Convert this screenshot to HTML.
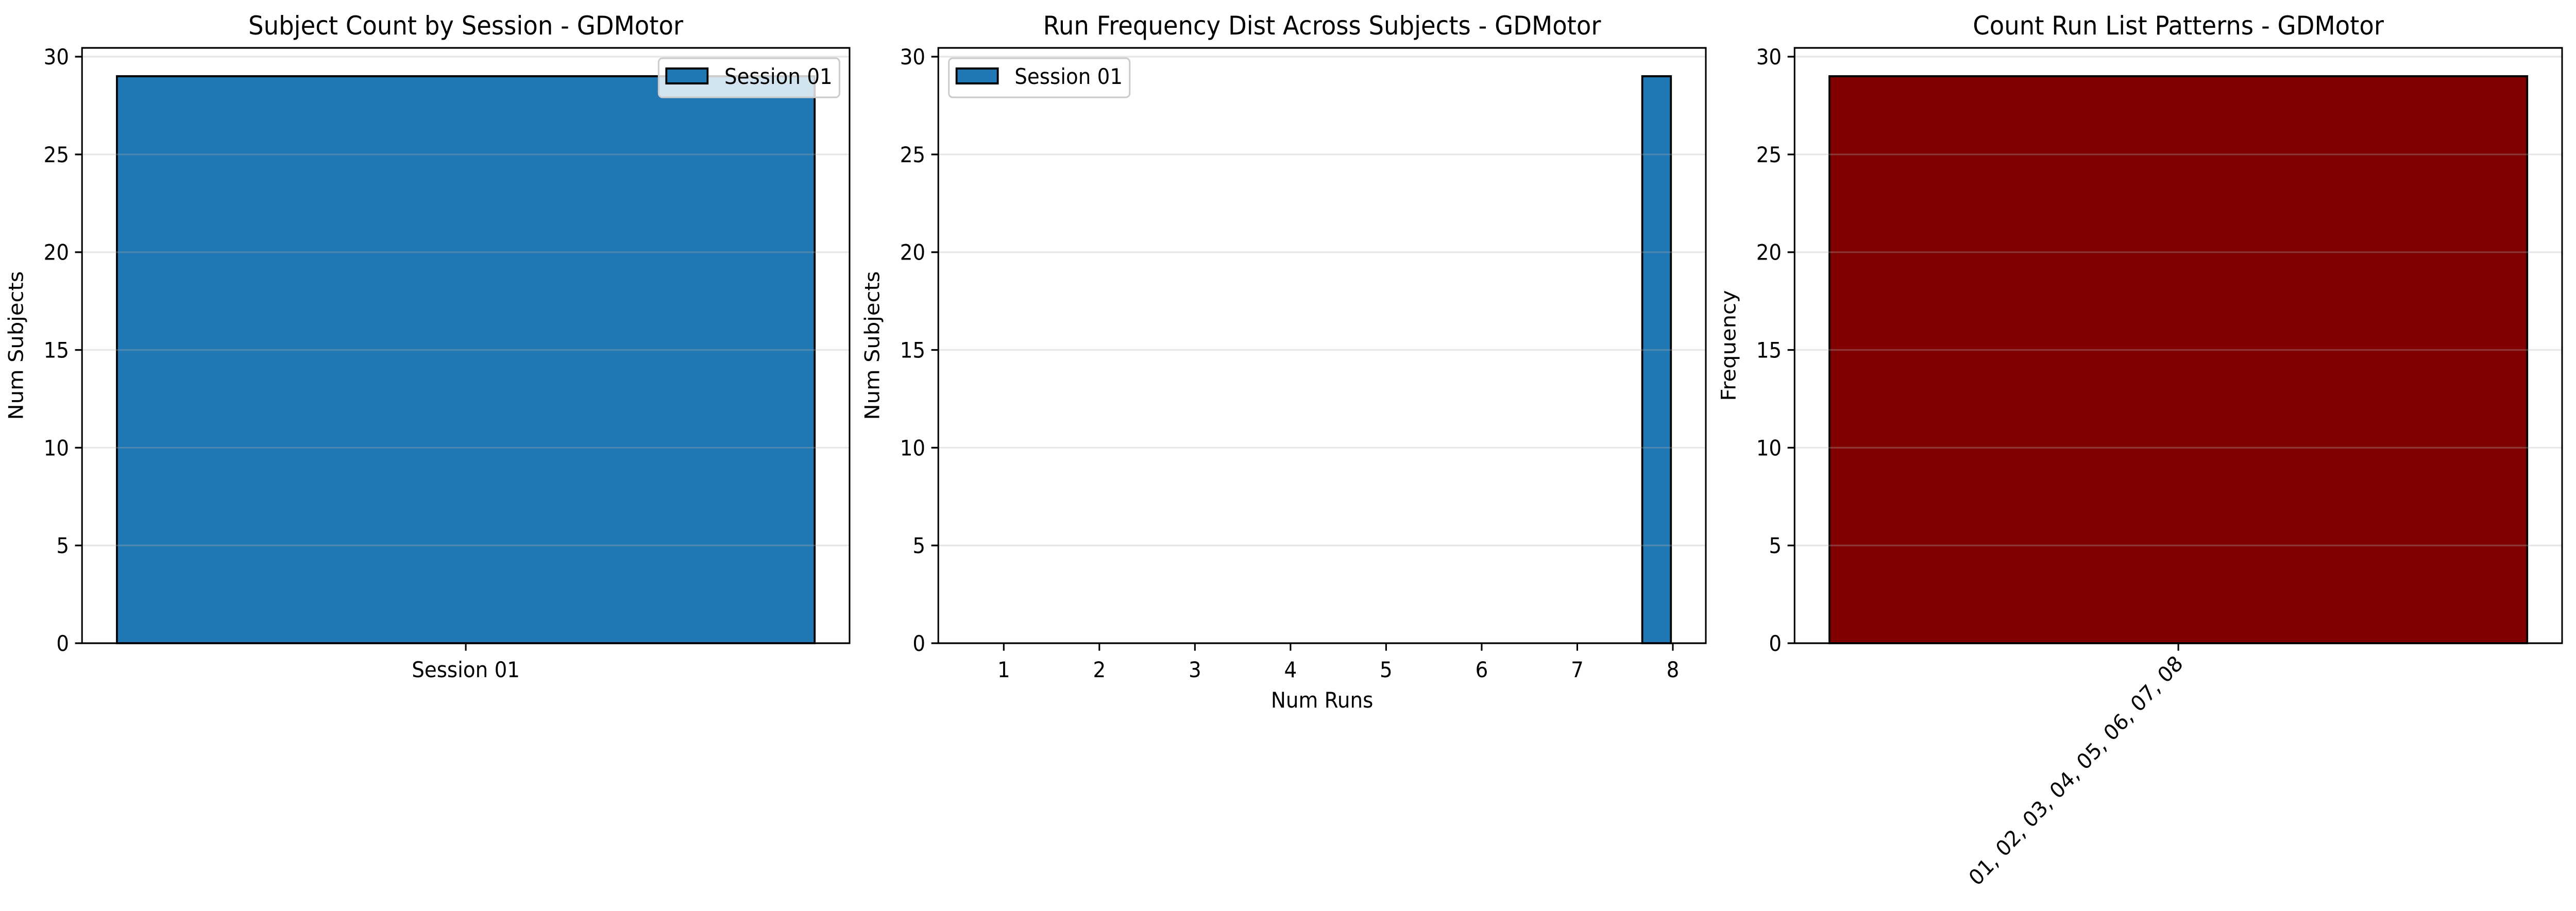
<!DOCTYPE html>
<html><head><meta charset="utf-8"><style>
html,body{margin:0;padding:0;background:#fff;width:100%;height:100%;overflow:hidden;}
svg{display:block;position:absolute;left:0;top:0;width:100vw;height:100vh;overflow:hidden;font-family:"DejaVu Sans","Liberation Sans",sans-serif;}
</style></head><body>
<svg id="fig" viewBox="0 0 5370 1769" preserveAspectRatio="none" xmlns="http://www.w3.org/2000/svg"></svg>
<script>
// ---- data ----
const sessionCats = ["Session 01"];
const sessionCounts = [29];
const runCats = [1, 2, 3, 4, 5, 6, 7, 8];
const runCounts = [0, 0, 0, 0, 0, 0, 0, 29];
const patternCats = ["01, 02, 03, 04, 05, 06, 07, 08"];
const patternCounts = [29];
const yTicks = [0, 5, 10, 15, 20, 25, 30];

const NS = "http://www.w3.org/2000/svg";
const svg = document.getElementById("fig");
function mk(tag, attrs, parent) {
  const e = document.createElementNS(NS, tag);
  for (const k in attrs) e.setAttribute(k, attrs[k]);
  (parent || svg).appendChild(e);
  return e;
}
const TOP = 93, BOT = 1249;
const FS = 41.7;

function panel(cfg) {
  const g = mk("g", {});
  
  
  const L = cfg.left, R = cfg.left + 1600;
  const ymax = Math.max(...cfg.values) * 1.05;
  const ys = v => BOT - v / ymax * (BOT - TOP);
  const xs = v => L + (v - cfg.xmin) / (cfg.xmax - cfg.xmin) * (R - L);
  cfg.values.forEach((v, i) => {
    const x0 = xs(cfg.xpos[i] + cfg.barOff), x1 = xs(cfg.xpos[i] + cfg.barOff + cfg.barW);
    const b = mk("rect", {x: x0, y: ys(v), width: x1 - x0, height: BOT - ys(v), fill: cfg.color, stroke: "#000", "stroke-width": 4}, g);
    
    
  });
  yTicks.forEach(t => {
    const y = ys(t);
    const gl = mk("line", {x1: L, x2: R, y1: y, y2: y, stroke: "#b0b0b0", "stroke-opacity": 0.3, "stroke-width": 3.3}, g);
    
    
    mk("line", {x1: L - 14.6, x2: L, y1: y, y2: y, stroke: "#000", "stroke-width": 3.3}, g);
    const tl = mk("text", {x: L - 27, y: y + 15, "font-size": FS, "text-anchor": "end"}, g);
    tl.textContent = t;
    
    
  });
  cfg.labels.forEach((lab, i) => {
    const x = xs(cfg.xpos[i]);
    mk("line", {x1: x, x2: x, y1: BOT, y2: BOT + 14.6, stroke: "#000", "stroke-width": 3.3}, g);
    let t;
    if (cfg.rotate) {
      t = mk("text", {x: x + 12, y: BOT + 42, "font-size": FS, "text-anchor": "end", transform: `rotate(-45 ${x + 12} ${BOT + 42})`}, g);
    } else {
      t = mk("text", {x: x, y: BOT + 66, "font-size": FS, "text-anchor": "middle"}, g);
    }
    t.textContent = lab;
    
    
  });
  const fr = mk("rect", {x: L, y: TOP, width: R - L, height: BOT - TOP, fill: "none", stroke: "#000", "stroke-width": 3.3}, g);
  
  
  const ti = mk("text", {x: (L + R) / 2, y: 67, "font-size": 50, "text-anchor": "middle"}, g);
  ti.textContent = cfg.title;
  
  
  const yl = L - 123, yc = (TOP + BOT) / 2;
  const ylab = mk("text", {x: yl, y: yc, "font-size": FS, "text-anchor": "middle", transform: `rotate(-90 ${yl} ${yc})`}, g);
  ylab.textContent = cfg.ylabel;
  
  
  if (cfg.xlabel) {
    const xl = mk("text", {x: (L + R) / 2, y: 1374, "font-size": FS, "text-anchor": "middle"}, g);
    xl.textContent = cfg.xlabel;
    
    
  }
  if (cfg.legendX !== undefined) {
    const lg = mk("g", {}, g);
    
    
    const lx = cfg.legendX;
    mk("rect", {x: lx, y: 113, width: 377, height: 76, rx: 8, fill: "#fff", "fill-opacity": 0.8, stroke: "#cccccc", "stroke-width": 3.3}, lg);
    mk("rect", {x: lx + 16, y: 133, width: 86, height: 29, fill: cfg.color, stroke: "#000", "stroke-width": 4}, lg);
    const lt = mk("text", {x: lx + 137, y: 163, "font-size": FS}, lg);
    lt.textContent = "Session 01";
    
    
  }
}

panel({name: "subject-count-chart", left: 171, title: "Subject Count by Session - GDMotor", ylabel: "Num Subjects",
  labels: sessionCats, values: sessionCounts, xpos: sessionCats.map((_, i) => i), xmin: -0.44, xmax: 0.44,
  barOff: -0.4, barW: 0.8, color: "#1f77b4", legendX: 1373});
panel({name: "run-frequency-chart", left: 1956, title: "Run Frequency Dist Across Subjects - GDMotor", ylabel: "Num Subjects", xlabel: "Num Runs",
  labels: runCats, values: runCounts, xpos: runCats, xmin: 0.315, xmax: 8.345,
  barOff: -0.32, barW: 0.3, color: "#1f77b4", legendX: 1978});
panel({name: "run-pattern-chart", left: 3741, title: "Count Run List Patterns - GDMotor", ylabel: "Frequency",
  labels: patternCats, values: patternCounts, xpos: patternCats.map((_, i) => i), xmin: -0.44, xmax: 0.44,
  barOff: -0.4, barW: 0.8, color: "#800000", rotate: true});
</script>
</body></html>
